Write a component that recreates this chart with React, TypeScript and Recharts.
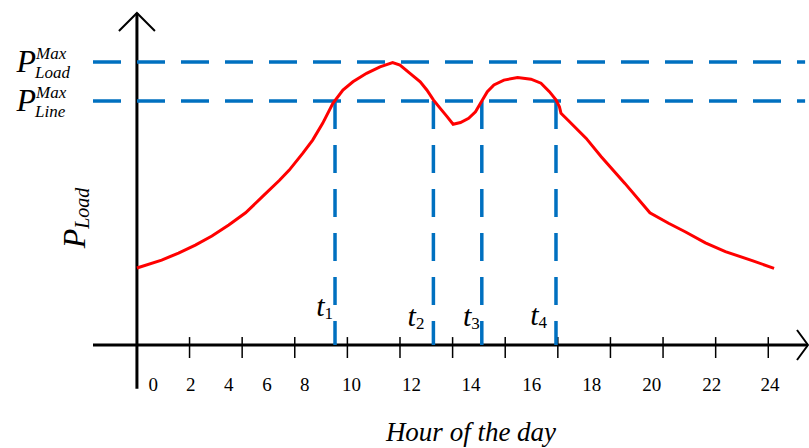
import { LineChart, Line, XAxis, YAxis, ReferenceLine } from 'recharts'

// load curve (hour of day -> load)
const hours = [
  0, 0.94, 1.58, 2.22, 2.85, 3.49, 4.13, 4.77, 5.41, 5.79,
  6.3, 6.68, 7.06, 7.45, 7.83, 8.21, 8.73, 9.24, 9.72, 10.0,
  10.38, 10.77, 11.02, 11.27, 11.53, 11.79, 12.02, 12.3, 12.61, 12.87,
  13.06, 13.32, 13.57, 13.95, 14.47, 14.98, 15.36, 15.68, 15.93, 16.06,
  16.12, 16.38, 17.08, 17.65, 18.55, 19.5, 20.21, 20.84, 21.61, 22.37,
  23.39, 24.22,
]
const load = [
  27.2, 30.0, 32.5, 35.3, 38.5, 42.4, 46.7, 52.4, 58.1, 61.8,
  67.7, 72.4, 78.3, 85.4, 90.1, 93.0, 96.0, 98.3, 99.8, 98.9,
  96.0, 93.0, 90.1, 86.6, 83.6, 80.7, 78.0, 78.6, 80.1, 82.4,
  85.4, 89.5, 91.9, 93.6, 94.5, 93.9, 92.5, 89.5, 86.6, 84.2,
  81.9, 79.5, 73.0, 66.5, 57.1, 46.7, 43.0, 40.0, 36.1, 33.0,
  29.8, 27.1,
]

const pLoadMax = 100
const pLineMax = 86.2

const crossTimes = [7.53, 11.27, 13.11, 15.93]
const crossNames = ['1', '2', '3', '4']

// tick marks on the hour axis
const hourTicks = [2, 4, 6, 8, 10, 12, 14, 16, 18, 20, 22, 24]
// where the figure puts its hour labels (hours) and their text
const labelAt = [0.62, 2.05, 3.49, 4.94, 6.38, 8.16, 10.44, 12.7, 15.01, 17.29, 19.57, 21.85, 24.07]
const hourLabels = ['0', '2', '4', '6', '8', '10', '12', '14', '16', '18', '20', '22', '24']

const X_MIN = -1.67
const X_MAX = 25.51
const Y_MIN = 0
const Y_MAX = 117.3

const data = hours.map((h, i) => ({ h, p: load[i] }))

const SERIF = "'Liberation Serif', 'Times New Roman', serif"
const BLUE = '#0070c0'

// small per-label nudges for the t labels (styling only)
const tNudge = [
  { dx: -2, dy: -29 },
  { dx: -9, dy: -19 },
  { dx: -2, dy: -19 },
  { dx: -9, dy: -20 },
]

const HourTick = (props: any) => {
  const { x, y, index } = props
  return (
    <text x={x} y={y + 46} textAnchor="middle" fontFamily={SERIF} fontSize={19} fill="#000">
      {hourLabels[index]}
    </text>
  )
}

const YAxisDecor = (props: any) => {
  const vb = props.viewBox
  if (!vb) return null
  const { x, y } = vb
  return (
    <g>
      <path d={`M${x - 18},${y + 18} L${x},${y} L${x + 18},${y + 18}`} fill="none" stroke="#000" strokeWidth={2} />
      <text
        x={85}
        y={218}
        transform="rotate(-90 85 218)"
        textAnchor="middle"
        fontFamily={SERIF}
        fontStyle="italic"
        fill="#000"
      >
        <tspan fontSize={32}>P</tspan>
        <tspan fontSize={20} dy={4}>Load</tspan>
      </text>
    </g>
  )
}

const XAxisDecor = (props: any) => {
  const vb = props.viewBox
  if (!vb) return null
  const xe = vb.x + vb.width
  const y = vb.y
  return (
    <g>
      <path d={`M${xe - 11},${y - 15} L${xe},${y} L${xe - 11},${y + 15}`} fill="none" stroke="#000" strokeWidth={2} />
      <text x={471} y={441} textAnchor="middle" fontFamily={SERIF} fontStyle="italic" fontSize={27} fill="#000">
        Hour of the day
      </text>
    </g>
  )
}

const LimitLabel = (props: any) => {
  const vb = props.viewBox
  if (!vb) return null
  const y = vb.y
  const xs = 36
  return (
    <g fontFamily={SERIF} fontStyle="italic" fill="#000">
      <text x={xs} y={y + 10} textAnchor="end" fontSize={32}>P</text>
      <text x={xs} y={y - 3} fontSize={17}>Max</text>
      <text x={xs - 1} y={y + 16} fontSize={17}>{props.sub}</text>
    </g>
  )
}

const CrossLabel = (props: any) => {
  const vb = props.viewBox
  if (!vb) return null
  const n = tNudge[props.idx]
  const bottom = vb.y + vb.height
  return (
    <text x={vb.x + n.dx} y={bottom + n.dy} textAnchor="end" fontFamily={SERIF} fill="#000">
      <tspan fontSize={30} fontStyle="italic">t</tspan>
      <tspan fontSize={17} dy={3}>{crossNames[props.idx]}</tspan>
    </text>
  )
}

export default function App() {
  return (
    <div style={{ position: 'absolute', left: 0, top: 0, width: 809, height: 448, background: '#fff' }}>
      <LineChart width={809} height={448} data={data} margin={{ top: 13, right: 1, left: 93, bottom: 63 }}>
        <XAxis
          dataKey="h"
          type="number"
          domain={[X_MIN, X_MAX]}
          allowDataOverflow
          ticks={labelAt}
          interval={0}
          tick={<HourTick />}
          axisLine={false}
          tickLine={false}
          tickSize={0}
          tickMargin={0}
          height={40}
        />
        <YAxis type="number" domain={[Y_MIN, Y_MAX]} allowDataOverflow hide />

        {/* axes drawn as crossing lines */}
        <ReferenceLine
          segment={[{ x: X_MIN, y: 0 }, { x: X_MAX, y: 0 }]}
          stroke="#000"
          strokeWidth={3}
          ifOverflow="visible"
          label={<XAxisDecor />}
        />
        <ReferenceLine
          segment={[{ x: 0, y: -15.5 }, { x: 0, y: Y_MAX }]}
          stroke="#000"
          strokeWidth={3}
          ifOverflow="visible"
          label={<YAxisDecor />}
        />
        {hourTicks.map(h => (
          <ReferenceLine
            key={h}
            segment={[{ x: h, y: 2.8 }, { x: h, y: -4.6 }]}
            stroke="#000"
            strokeWidth={1.5}
            ifOverflow="visible"
          />
        ))}

        {/* limits */}
        <ReferenceLine
          segment={[{ x: X_MIN, y: pLoadMax }, { x: 25.4, y: pLoadMax }]}
          stroke={BLUE}
          strokeWidth={3.5}
          strokeDasharray="28 16"
          ifOverflow="visible"
          label={<LimitLabel sub="Load" />}
        />
        <ReferenceLine
          segment={[{ x: X_MIN, y: pLineMax }, { x: 25.4, y: pLineMax }]}
          stroke={BLUE}
          strokeWidth={3.5}
          strokeDasharray="28 16"
          ifOverflow="visible"
          label={<LimitLabel sub="Line" />}
        />
        {crossTimes.map((t, i) => (
          <ReferenceLine
            key={t}
            segment={[{ x: t, y: pLineMax }, { x: t, y: 0 }]}
            stroke={BLUE}
            strokeWidth={3.5}
            strokeDasharray="28 16"
            ifOverflow="visible"
            label={<CrossLabel idx={i} />}
          />
        ))}

        <Line
          type="linear"
          dataKey="p"
          stroke="#ff0000"
          strokeWidth={3}
          dot={false}
          isAnimationActive={false}
        />
      </LineChart>
    </div>
  )
}
